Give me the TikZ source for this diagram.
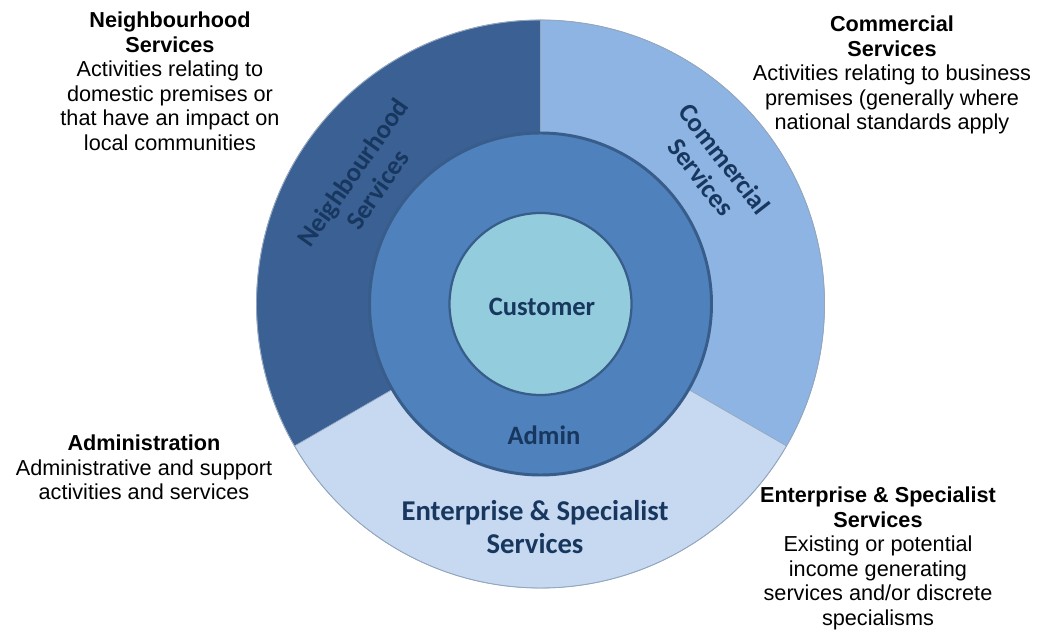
\documentclass[tikz,border=0pt]{standalone}
\usepackage{fontspec}
\setmainfont{Liberation Sans}
\newfontfamily\calibri{Carlito}
\definecolor{nbh}{HTML}{3A6094}
\definecolor{com}{HTML}{8EB4E3}
\definecolor{ent}{HTML}{C6D9F1}
\definecolor{adm}{HTML}{4F81BD}
\definecolor{cus}{HTML}{93CDDD}
\definecolor{rim}{HTML}{385D8A}
\definecolor{ink}{HTML}{17375E}
\tikzset{seg/.style={draw=rim!55,line width=0.4pt}}
\tikzset{ring/.style={draw=rim,line width=2.1pt}}
\tikzset{lbl/.style={font=\calibri\bfseries\fontsize{18.9}{21.3}\selectfont,text=ink,align=center,inner sep=0pt}}
\tikzset{desc/.style={font=\fontsize{15.4}{17.4}\selectfont,align=center,inner sep=0pt,anchor=north}}

\begin{document}
\begin{tikzpicture}[x=0.025cm,y=0.025cm]
\useasboundingbox (0,0) rectangle (1054,633);
\coordinate (O) at (540.5,329);

% the three service sectors
\foreach \a/\b/\c in {90/210/nbh,-30/90/com,210/330/ent}
  \filldraw[seg,fill=\c] (O) -- ++(\a:284) arc (\a:\b:284) -- cycle;
\draw[rim!55,line width=0.6pt] (O) circle[radius=284];

% admin ring and customer core
\filldraw[ring,fill=adm] (O) circle[radius=171];
\filldraw[ring,fill=cus,line width=1.6pt] (O) circle[radius=91];

\node[lbl,rotate=55](nbhlbl) at (365,452) {Neighbourhood\\Services};
\node[lbl,rotate=-52](comlbl) at (713,465) {Commercial\\Services};
\node[lbl,font=\calibri\bfseries\fontsize{20.4}{23.4}\selectfont](entlbl) at (535,106) {Enterprise \& Specialist\\Services};
\node[lbl](cuslbl) at (542,326) {Customer};
\node[lbl](admlbl) at (544,198) {Admin};

\node[desc](nbhtxt) at (170,621) {\textbf{Neighbourhood}\\\textbf{Services}\\Activities relating to\\domestic premises or\\that have an impact on\\local communities};
\node[desc](comtxt) at (892,617) {\textbf{Commercial}\\\textbf{Services}\\Activities relating to business\\premises (generally where\\national standards apply};
\node[desc](admtxt) at (144,198) {\textbf{Administration}\\Administrative and support\\activities and services};
\node[desc](enttxt) at (878,146) {\textbf{Enterprise \& Specialist}\\\textbf{Services}\\Existing or potential\\income generating\\services and/or discrete\\specialisms};
\end{tikzpicture}
\end{document}
